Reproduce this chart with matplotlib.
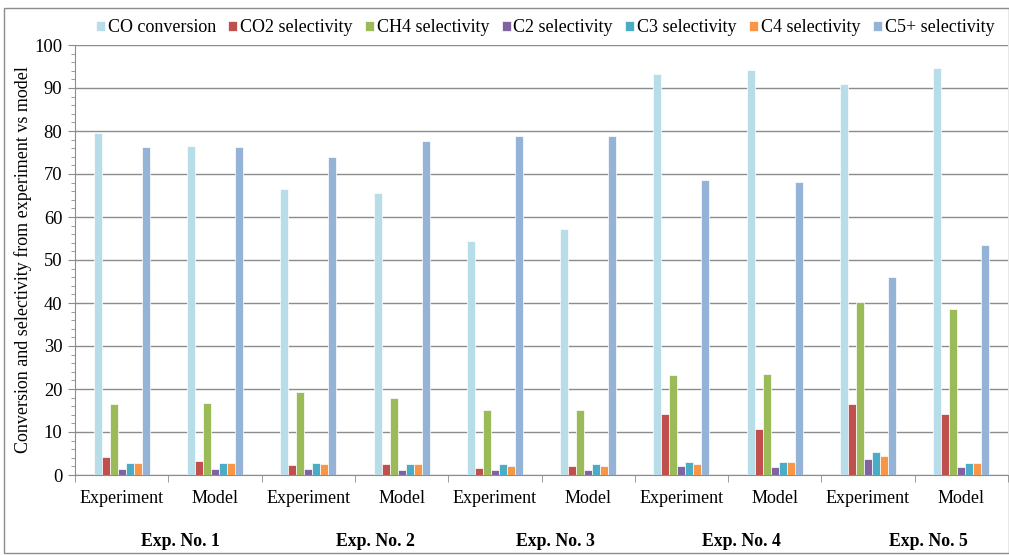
import matplotlib
matplotlib.use("Agg")
import matplotlib.pyplot as plt
import numpy as np
from matplotlib.patches import Rectangle

plt.rcParams['font.family'] = ['Liberation Serif', 'DejaVu Serif']

categories = ["Experiment", "Model"] * 5
groups = ["Exp. No. 1", "Exp. No. 2", "Exp. No. 3", "Exp. No. 4", "Exp. No. 5"]
series_names = ["CO conversion", "CO2 selectivity", "CH4 selectivity", "C2 selectivity",
                "C3 selectivity", "C4 selectivity", "C5+ selectivity"]
co_conv = [79.5, 76.6, 66.6, 65.6, 54.5, 57.1, 93.2, 94.2, 90.9, 94.6]
co2_sel = [4.3, 3.3, 2.4, 2.5, 1.6, 2.1, 14.1, 10.7, 16.4, 14.1]
ch4_sel = [16.5, 16.7, 19.2, 17.9, 15.2, 15.2, 23.3, 23.6, 40.3, 38.5]
c2_sel = [1.3, 1.3, 1.45, 1.15, 1.15, 1.15, 2.15, 1.85, 3.8, 1.95]
c3_sel = [2.8, 2.8, 2.8, 2.5, 2.5, 2.5, 3.0, 3.0, 5.3, 2.9]
c4_sel = [2.9, 2.9, 2.5, 2.5, 2.0, 2.0, 2.6, 3.0, 4.4, 2.8]
c5p_sel = [76.3, 76.2, 73.9, 77.6, 78.8, 78.8, 68.6, 68.2, 46.0, 53.4]

series = [co_conv, co2_sel, ch4_sel, c2_sel, c3_sel, c4_sel, c5p_sel]
colors = ["#B7DEE8", "#C0504D", "#9BBB59", "#8064A2", "#4BACC6", "#F79646", "#95B3D7"]

# layout: horizontal pixel centres of the (manually placed) group captions
group_label_px = [180, 375, 555, 741, 928]

W, H = 1009, 555
fig = plt.figure(figsize=(W / 100, H / 100), dpi=100)
ax = fig.add_axes([75 / W, (H - 475) / H, 933 / W, 430 / H])

x = np.arange(len(categories))
slot = 8 / 93.3
for j, (vals, c, name) in enumerate(zip(series, colors, series_names)):
    ax.bar(x + (j - 3) * slot, vals, width=slot, color=c, edgecolor="white",
           linewidth=0.5, label=name, zorder=3)

ax.set_xlim(-0.5, len(categories) - 0.5)
ax.set_ylim(0, 100)
ax.set_yticks(np.arange(0, 101, 10))
ax.set_yticks(np.arange(0, 101, 2), minor=True)
ax.yaxis.grid(True, which="major", color="#8C8C8C", linewidth=1.0, zorder=0)
ax.tick_params(axis="y", which="major", direction="out", length=5, color="#8C8C8C",
               labelsize=13.3, pad=4)
ax.tick_params(axis="y", which="minor", direction="out", length=3, color="#8C8C8C")

ax.set_xticks(x)
ax.set_xticklabels(categories)
ax.set_xticks(np.arange(-0.5, len(categories), 1.0), minor=True)
ax.tick_params(axis="x", which="major", length=0, labelsize=13, pad=11)
ax.tick_params(axis="x", which="minor", direction="out", length=5, color="#8C8C8C")

for s in ["top", "right"]:
    ax.spines[s].set_visible(False)
for s in ["left", "bottom"]:
    ax.spines[s].set_color("#8C8C8C")

ax.set_ylabel("Conversion and selectivity from experiment vs model", fontsize=13, labelpad=1.5)

for px, g in zip(group_label_px, groups):
    fig.text(px / W, (H - 541) / H, g, ha="center", va="center",
             fontsize=12.8, fontweight="bold")

fig.legend(loc="center", bbox_to_anchor=(545 / W, (H - 28) / H), ncol=7, frameon=False,
           fontsize=13, handlelength=0.5, handleheight=0.5, handletextpad=0.15,
           columnspacing=0.69)

fig.add_artist(Rectangle((4 / W, 2 / H), (W - 4) / W, (H - 10) / H, transform=fig.transFigure,
                         fill=False, edgecolor="#8C8C8C", linewidth=1.0))

fig.savefig("out.png", dpi=100)
